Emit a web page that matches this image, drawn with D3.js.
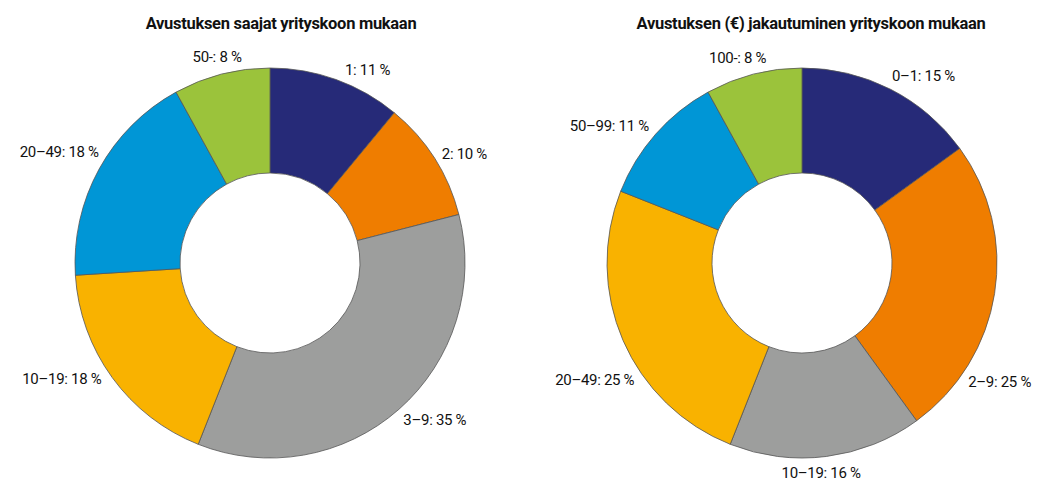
<!DOCTYPE html>
<html>
<head>
<meta charset="utf-8">
<script src="https://cdn.jsdelivr.net/npm/d3@7"></script>
<style>
  body { margin: 0; background: #fff; }
  text { font-family: Roboto, "Liberation Sans", sans-serif; fill: #111; }
</style>
</head>
<body>
<svg id="chart" width="1040" height="483"></svg>
<script>
// data
const leftTitle = "Avustuksen saajat yrityskoon mukaan";
const leftCategories = ["1", "2", "3–9", "10–19", "20–49", "50-"];
const leftValues = [11, 10, 35, 18, 18, 8];

const rightTitle = "Avustuksen (€) jakautuminen yrityskoon mukaan";
const rightCategories = ["0–1", "2–9", "10–19", "20–49", "50–99", "100-"];
const rightValues = [15, 25, 16, 25, 11, 8];

const colors = ["#262a78", "#ef7d00", "#9d9e9d", "#f9b200", "#0096d6", "#9bc33b"];

// label angle nudges (degrees), layout only
const leftNudge = [7, 3, -5, 7, -1, 0];
const rightNudge = [6, 22, 2, -6, -6, -3];

class Donut {
    constructor(svg, cx, cy, outer, inner) {
        this.svg = svg;
        this.cx = cx;
        this.cy = cy;
        this.outer = outer;
        this.inner = inner;
    }

    draw(title, titleX, categories, values, nudge) {
        const data = categories.map((c, i) => ({ label: c, value: values[i], i }));
        const g = this.svg.append("g")
            .attr("transform", `translate(${this.cx}, ${this.cy})`);

        const pie = d3.pie().value(d => d.value).sort(null);
        const arc = d3.arc().innerRadius(this.inner).outerRadius(this.outer);
        const arcs = pie(data);

        g.selectAll("path")
            .data(arcs)
            .join("path")
            .attr("d", arc)
            .attr("fill", d => colors[d.data.i])
            .attr("stroke", "#555")
            .attr("stroke-width", 0.8);

        this.svg.append("text")
            .attr("x", titleX)
            .attr("y", 29)
            .attr("text-anchor", "middle")
            .attr("font-size", "16.5px")
            .attr("font-weight", "bold")
            .attr("letter-spacing", "-0.3px")
            .text(title);

        const labels = g.selectAll("text.lbl")
            .data(arcs)
            .join("text")
            .attr("class", "lbl")
            .attr("font-size", "15px")
            .attr("letter-spacing", "-0.3px")
            .attr("text-anchor", "middle")
            .attr("dy", "0.35em")
            .text(d => `${d.data.label}: ${d.data.value} %`);

        const R = this.outer;
        labels.each(function (d) {
            const w = this.getComputedTextLength();
            const h = 14;
            const a = (d.startAngle + d.endAngle) / 2 + nudge[d.data.i] * Math.PI / 180;
            const ext = Math.abs(Math.sin(a)) * w / 2 + Math.abs(Math.cos(a)) * h / 2;
            const r = R + 5 + ext;
            d3.select(this)
                .attr("x", Math.sin(a) * r)
                .attr("y", -Math.cos(a) * r);
        });
    }
}

const svg = d3.select("#chart");
new Donut(svg, 270, 263, 195, 90).draw(leftTitle, 281, leftCategories, leftValues, leftNudge);
new Donut(svg, 802, 263, 195, 90).draw(rightTitle, 811, rightCategories, rightValues, rightNudge);
</script>
</body>
</html>
